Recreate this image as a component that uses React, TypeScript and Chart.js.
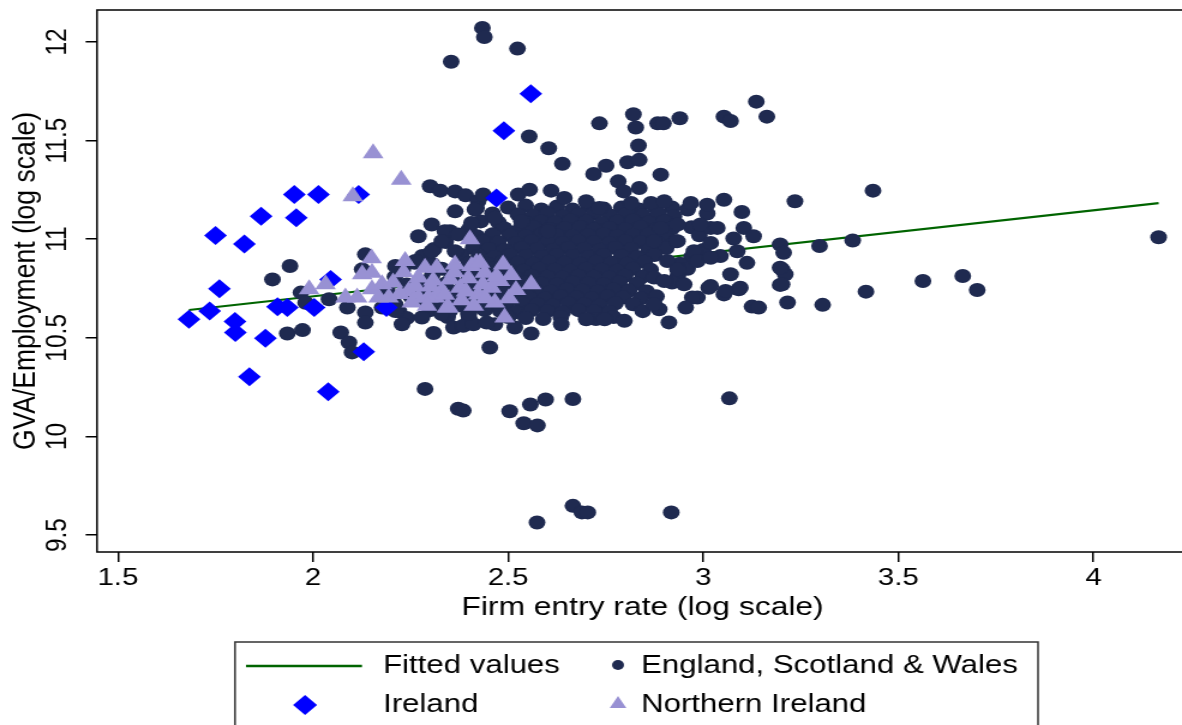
import React, { useEffect, useRef } from 'react';
import { Chart, registerables } from 'chart.js';

Chart.register(...registerables);

// ---------- data ----------
const xTicks = [1.5, 2, 2.5, 3, 3.5, 4];
const xTickLabels = ['1.5', '2', '2.5', '3', '3.5', '4'];
const yTicks = [9.5, 10, 10.5, 11, 11.5, 12];
const yTickLabels = ['9.5', '10', '10.5', '11', '11.5', '12'];

const seriesLabels = ['Fitted values', 'England, Scotland & Wales', 'Ireland', 'Northern Ireland'];

const fitted: [number, number][] = [[1.682, 10.641], [4.167, 11.183]];

const ireland: [number, number][] = [
  [1.952, 11.226], [2.014, 11.226], [2.117, 11.226], [1.867, 11.116], [1.957, 11.108],
  [1.750, 11.019], [1.824, 10.976], [1.760, 10.749], [2.045, 10.796], [1.682, 10.594],
  [1.735, 10.636], [1.800, 10.582], [1.801, 10.527], [1.878, 10.498], [1.909, 10.657],
  [1.934, 10.653], [2.003, 10.653], [2.130, 10.429], [1.837, 10.303], [2.039, 10.227],
  [2.188, 10.653], [2.558, 11.737], [2.489, 11.549], [2.470, 11.209],
];

const northernIreland: [number, number][] = [
  [2.154, 11.436], [2.226, 11.301], [2.102, 11.217], [2.402, 10.999], [2.150, 10.903],
  [1.990, 10.746], [2.032, 10.771], [2.126, 10.822], [2.151, 10.830], [2.083, 10.704],
  [2.113, 10.704], [2.151, 10.746], [2.177, 10.771], [2.168, 10.704], [2.236, 10.889],
  [2.245, 10.737], [2.287, 10.855], [2.317, 10.855], [2.270, 10.704], [2.364, 10.872],
  [2.351, 10.796], [2.377, 10.754], [2.343, 10.653], [2.419, 10.880], [2.423, 10.720],
  [2.313, 10.704], [2.194, 10.704], [2.406, 10.864], [2.428, 10.880], [2.487, 10.872],
  [2.270, 10.805], [2.296, 10.704], [2.330, 10.737], [2.347, 10.653], [2.457, 10.754],
  [2.479, 10.788], [2.466, 10.679], [2.491, 10.603], [2.559, 10.771], [2.253, 10.679],
  [2.205, 10.780], [2.222, 10.722], [2.262, 10.762], [2.308, 10.790], [2.338, 10.718],
  [2.381, 10.690], [2.398, 10.802], [2.440, 10.830], [2.442, 10.700], [2.362, 10.832],
  [2.292, 10.662], [2.412, 10.662], [2.508, 10.818], [2.502, 10.700], [2.232, 10.832],
  [2.302, 10.760], [2.392, 10.735], [2.470, 10.812], [2.520, 10.742], [2.435, 10.772],
];

const eswOuter: [number, number][] = [
  [2.434, 12.071], [2.439, 12.025], [2.524, 11.966], [2.354, 11.899],
  [2.734, 11.587], [2.821, 11.633], [2.827, 11.566], [2.883, 11.587], [2.898, 11.587],
  [2.940, 11.613], [3.053, 11.621], [3.070, 11.599], [3.136, 11.697], [3.163, 11.621],
  [2.554, 11.520], [2.604, 11.461], [2.639, 11.382], [2.834, 11.475], [2.806, 11.390],
  [2.836, 11.402], [2.719, 11.330], [2.751, 11.372], [2.891, 11.327], [2.782, 11.293],
  [2.836, 11.259], [2.796, 11.242],
  [2.300, 11.268], [2.326, 11.246], [2.364, 11.242], [2.391, 11.222], [2.423, 11.192],
  [2.419, 11.158], [2.436, 11.226], [2.526, 11.226], [2.555, 11.251], [2.610, 11.246],
  [2.644, 11.209], [2.700, 11.192], [2.734, 11.158], [2.815, 11.183], [2.866, 11.183],
  [2.900, 11.192], [2.968, 11.183], [3.010, 11.175], [3.053, 11.200], [3.099, 11.138],
  [3.235, 11.192], [3.435, 11.246],
  [2.364, 11.141], [2.415, 11.150], [2.466, 11.108], [2.534, 11.091], [2.304, 11.074],
  [2.351, 11.040], [2.338, 11.040], [2.270, 11.015], [2.406, 11.082], [2.602, 11.040],
  [3.019, 11.057], [3.104, 11.057], [3.129, 11.015], [3.078, 11.003], [3.197, 10.973],
  [3.206, 10.931], [3.019, 10.981], [3.298, 10.965], [3.383, 10.993], [4.167, 11.010],
  [3.112, 10.880], [3.070, 10.822], [3.202, 10.847], [3.210, 10.822], [3.197, 10.768],
  [3.014, 10.754], [3.053, 10.720], [3.091, 10.746], [2.985, 10.704], [3.125, 10.658],
  [3.142, 10.653], [3.216, 10.679], [3.306, 10.667], [3.417, 10.734], [3.563, 10.788],
  [3.665, 10.813], [3.702, 10.742], [3.044, 10.914], [3.087, 10.939], [3.197, 10.855],
  [3.202, 10.771], [3.019, 10.763], [3.057, 10.737], [3.095, 10.754],
  [2.951, 10.771], [2.972, 10.704], [2.955, 10.653], [2.887, 10.645], [2.912, 10.578],
  [2.798, 10.586], [2.993, 11.074], [3.036, 11.057], [2.934, 11.074], [2.891, 11.057],
  [2.874, 10.990], [2.934, 10.990], [2.976, 10.939], [2.908, 10.889], [2.934, 10.847],
  [2.985, 10.889], [3.019, 10.906], [2.874, 10.805], [2.900, 10.788], [2.874, 10.670],
  [2.228, 10.569], [2.309, 10.524], [2.360, 10.552], [2.385, 10.561], [2.411, 10.569],
  [2.466, 10.569], [2.517, 10.552], [2.559, 10.522], [2.636, 10.569], [2.700, 10.594],
  [2.747, 10.594], [2.453, 10.451],
  [2.287, 10.241], [2.372, 10.140], [2.385, 10.131], [2.504, 10.128], [2.557, 10.162],
  [2.596, 10.187], [2.666, 10.190], [2.540, 10.067], [2.575, 10.056], [3.067, 10.193],
  [2.666, 9.648], [2.689, 9.615], [2.704, 9.615], [2.918, 9.615], [2.574, 9.564],
  [1.941, 10.864], [1.896, 10.796], [1.934, 10.522], [1.973, 10.539], [1.969, 10.729],
  [1.981, 10.678], [2.041, 10.695], [2.071, 10.527], [2.092, 10.476], [2.100, 10.426],
  [2.134, 10.923], [2.126, 10.847], [2.088, 10.653], [2.134, 10.628], [2.134, 10.577],
  [2.330, 10.990], [2.372, 11.024], [2.364, 10.939], [2.304, 10.939], [2.228, 10.855],
  [2.262, 10.889], [2.211, 10.864], [2.177, 10.653], [2.211, 10.636], [2.279, 10.603],
  [2.330, 10.620], [2.398, 10.620], [2.445, 10.577],
];

const eswCore: [number, number][] = [
  [2.50, 11.16], [2.545, 11.17], [2.585, 11.15], [2.625, 11.165], [2.665, 11.15], [2.705, 11.17],
  [2.745, 11.155], [2.79, 11.16], [2.835, 11.15], [2.875, 11.165], [2.92, 11.16], [2.96, 11.15],
  [2.46, 11.13], [2.525, 11.125], [2.565, 11.12], [2.60, 11.13], [2.64, 11.115],
  [2.68, 11.125], [2.72, 11.13], [2.76, 11.12], [2.80, 11.125], [2.845, 11.12], [2.885, 11.13],
  [2.925, 11.115], [3.01, 11.13],
  [2.43, 11.09], [2.475, 11.085], [2.545, 11.085], [2.585, 11.09], [2.62, 11.085],
  [2.66, 11.095], [2.70, 11.09], [2.74, 11.08], [2.78, 11.09], [2.82, 11.095], [2.86, 11.085],
  [2.90, 11.09],
  [2.40, 11.05], [2.49, 11.055], [2.53, 11.05], [2.565, 11.06], [2.605, 11.05],
  [2.645, 11.055], [2.685, 11.06], [2.72, 11.05], [2.76, 11.055], [2.80, 11.05], [2.84, 11.06],
  [2.88, 11.05], [2.92, 11.055], [2.97, 11.06],
  [2.42, 11.015], [2.46, 11.025], [2.505, 11.02], [2.545, 11.015], [2.585, 11.025],
  [2.625, 11.02], [2.665, 11.015], [2.705, 11.02], [2.745, 11.025], [2.78, 11.015], [2.82, 11.02],
  [2.86, 11.025], [2.90, 11.015], [2.99, 11.02],
  [2.34, 10.985], [2.435, 10.99], [2.475, 10.985], [2.52, 10.98], [2.56, 10.99],
  [2.60, 10.985], [2.64, 10.98], [2.68, 10.99], [2.72, 10.985], [2.76, 10.98], [2.80, 10.99],
  [2.84, 10.985], [2.885, 10.98], [2.93, 10.99],
  [2.31, 10.95], [2.41, 10.955], [2.45, 10.95], [2.49, 10.945], [2.535, 10.955],
  [2.575, 10.95], [2.615, 10.945], [2.655, 10.955], [2.695, 10.95], [2.735, 10.945], [2.775, 10.955],
  [2.815, 10.95], [2.86, 10.945], [2.905, 10.955], [3.00, 10.945],
  [2.28, 10.915], [2.38, 10.92], [2.425, 10.915], [2.465, 10.91], [2.505, 10.92],
  [2.545, 10.915], [2.585, 10.91], [2.625, 10.92], [2.665, 10.915], [2.705, 10.91], [2.745, 10.92],
  [2.79, 10.915], [2.83, 10.91], [2.875, 10.92], [2.97, 10.91],
  [2.26, 10.88], [2.305, 10.875], [2.40, 10.88], [2.445, 10.875], [2.485, 10.885],
  [2.525, 10.88], [2.565, 10.875], [2.605, 10.885], [2.645, 10.88], [2.685, 10.875], [2.725, 10.885],
  [2.765, 10.88], [2.805, 10.875], [2.85, 10.885], [2.94, 10.875],
  [2.23, 10.845], [2.33, 10.85], [2.38, 10.845], [2.42, 10.84], [2.46, 10.85],
  [2.50, 10.845], [2.54, 10.84], [2.58, 10.85], [2.62, 10.845], [2.66, 10.84], [2.70, 10.85],
  [2.74, 10.845], [2.78, 10.84], [2.82, 10.85], [2.865, 10.845], [2.96, 10.85],
  [2.21, 10.81], [2.305, 10.815], [2.355, 10.81], [2.40, 10.805], [2.44, 10.815],
  [2.48, 10.81], [2.52, 10.805], [2.56, 10.815], [2.60, 10.81], [2.64, 10.805], [2.68, 10.815],
  [2.72, 10.81], [2.76, 10.805], [2.80, 10.815], [2.845, 10.81], [2.935, 10.815],
  [2.24, 10.77], [2.29, 10.78], [2.34, 10.775], [2.385, 10.77], [2.425, 10.78],
  [2.465, 10.775], [2.505, 10.77], [2.545, 10.78], [2.585, 10.775], [2.625, 10.77], [2.665, 10.78],
  [2.705, 10.775], [2.745, 10.77], [2.785, 10.78], [2.83, 10.775], [2.92, 10.78],
  [2.19, 10.74], [2.27, 10.745], [2.32, 10.74], [2.37, 10.735], [2.41, 10.745],
  [2.45, 10.74], [2.49, 10.735], [2.53, 10.745], [2.57, 10.74], [2.61, 10.735], [2.65, 10.745],
  [2.69, 10.74], [2.73, 10.735], [2.77, 10.745], [2.81, 10.74], [2.855, 10.735],
  [2.20, 10.705], [2.25, 10.71], [2.35, 10.70], [2.395, 10.71], [2.435, 10.705],
  [2.475, 10.70], [2.515, 10.71], [2.555, 10.705], [2.595, 10.70], [2.635, 10.71], [2.675, 10.705],
  [2.715, 10.70], [2.755, 10.71], [2.795, 10.705], [2.84, 10.70], [2.88, 10.71],
  [2.21, 10.67], [2.29, 10.675], [2.33, 10.67], [2.375, 10.665], [2.415, 10.675],
  [2.455, 10.67], [2.495, 10.665], [2.535, 10.675], [2.575, 10.67], [2.615, 10.665], [2.655, 10.675],
  [2.695, 10.67], [2.735, 10.665], [2.775, 10.675], [2.82, 10.67],
  [2.22, 10.635], [2.30, 10.64], [2.35, 10.635], [2.40, 10.63], [2.44, 10.64],
  [2.48, 10.635], [2.52, 10.63], [2.56, 10.64], [2.60, 10.635], [2.64, 10.63], [2.68, 10.64],
  [2.72, 10.635], [2.76, 10.63], [2.845, 10.635],
  [2.24, 10.60], [2.345, 10.605], [2.40, 10.60], [2.50, 10.605],
  [2.545, 10.60], [2.59, 10.595], [2.635, 10.605], [2.725, 10.595], [2.77, 10.605],
];

// ---------- styling / layout ----------
const STRETCH = 1.2; // the reference is drawn wider than tall
const W = 1000;
const H = 725;
const FONT = "'Liberation Sans', Arial, Helvetica, sans-serif";
const NAVY = '#1f2a50';
const BLUE = '#0000ff';
const LAVENDER = '#9891d3';
const GREEN = '#006400';

const AREA_LEFT = 97 / STRETCH;
const AREA_RIGHT = 1193 / STRETCH;
const AREA_TOP = 8;
const AREA_BOTTOM = 552;
const XAXIS_H = 72;

const pts = (a: [number, number][]) => a.map(([x, y]) => ({ x, y }));

const decorPlugin = {
  id: 'decor',
  afterDraw(chart: any) {
    const { ctx, chartArea: a } = chart;
    ctx.save();
    ctx.strokeStyle = '#000';
    ctx.lineWidth = 1.5;
    ctx.strokeRect(a.left, a.top, a.right - a.left, a.bottom - a.top);

    // rotated y tick labels
    const ys = chart.scales.y;
    ctx.fillStyle = '#000';
    ctx.font = `24.5px ${FONT}`;
    ctx.textAlign = 'center';
    ctx.textBaseline = 'middle';
    yTicks.forEach((v, i) => {
      const py = ys.getPixelForValue(v);
      ctx.save();
      ctx.translate(57.5 / STRETCH, py);
      ctx.rotate(-Math.PI / 2);
      ctx.fillText(yTickLabels[i], 0, 0);
      ctx.restore();
    });

    // legend
    const bx0 = 235 / STRETCH;
    const bx1 = 1038 / STRETCH;
    ctx.strokeStyle = '#333';
    ctx.lineWidth = 1.5;
    ctx.strokeRect(bx0, 642, bx1 - bx0, 120);
    const r1 = 666;
    const r2 = 705;
    const c1 = 305 / STRETCH;
    const c2 = 618 / STRETCH;
    const t1 = 383 / STRETCH;
    const t2 = 641 / STRETCH;
    ctx.strokeStyle = GREEN;
    ctx.lineWidth = 2.5;
    ctx.beginPath();
    ctx.moveTo(246 / STRETCH, r1);
    ctx.lineTo(362 / STRETCH, r1);
    ctx.stroke();
    ctx.fillStyle = NAVY;
    ctx.beginPath();
    ctx.arc(c2, r1 - 1, 5, 0, Math.PI * 2);
    ctx.fill();
    ctx.fillStyle = BLUE;
    const d = 10;
    ctx.beginPath();
    ctx.moveTo(c1, r2 - d);
    ctx.lineTo(c1 + d, r2);
    ctx.lineTo(c1, r2 + d);
    ctx.lineTo(c1 - d, r2);
    ctx.closePath();
    ctx.fill();
    ctx.fillStyle = LAVENDER;
    const t = 8;
    const ty = r2 - 1;
    ctx.beginPath();
    ctx.moveTo(c2, ty - t);
    ctx.lineTo(c2 + t * 0.866, ty + t / 2);
    ctx.lineTo(c2 - t * 0.866, ty + t / 2);
    ctx.closePath();
    ctx.fill();
    ctx.fillStyle = '#000';
    ctx.font = `26px ${FONT}`;
    ctx.textAlign = 'left';
    ctx.textBaseline = 'middle';
    ctx.fillText(seriesLabels[0], t1, r1);
    ctx.fillText(seriesLabels[1], t2, r1);
    ctx.fillText(seriesLabels[2], t1, r2);
    ctx.fillText(seriesLabels[3], t2, r2);
    ctx.restore();
  },
};

export default function App() {
  const ref = useRef<HTMLCanvasElement | null>(null);

  useEffect(() => {
    if (!ref.current) return;
    const chart = new Chart(ref.current, {
      type: 'scatter',
      data: {
        datasets: [
          {
            label: seriesLabels[3],
            data: pts(northernIreland),
            pointStyle: 'triangle',
            pointRadius: 10,
            pointBackgroundColor: LAVENDER,
            backgroundColor: LAVENDER,
            pointBorderWidth: 0,
            borderWidth: 0,
            order: 0,
          },
          {
            label: seriesLabels[2],
            data: pts(ireland),
            pointStyle: 'rectRot',
            pointRadius: 9.5,
            pointBackgroundColor: BLUE,
            backgroundColor: BLUE,
            pointBorderWidth: 0,
            borderWidth: 0,
            order: 1,
          },
          {
            label: seriesLabels[1],
            data: pts([...eswCore, ...eswOuter]),
            pointStyle: 'circle',
            pointRadius: 7,
            pointBackgroundColor: NAVY,
            backgroundColor: NAVY,
            pointBorderWidth: 0,
            borderWidth: 0,
            order: 2,
          },
          {
            label: seriesLabels[0],
            data: pts(fitted),
            showLine: true,
            pointRadius: 0,
            borderColor: GREEN,
            backgroundColor: GREEN,
            borderWidth: 2.2,
            fill: false,
            order: 3,
          },
        ],
      },
      options: {
        animation: false,
        responsive: false,
        devicePixelRatio: 1,
        events: [],
        layout: {
          padding: { left: 0, right: W - AREA_RIGHT, top: AREA_TOP, bottom: H - AREA_BOTTOM - XAXIS_H },
        },
        plugins: { legend: { display: false }, tooltip: { enabled: false } },
        scales: {
          x: {
            type: 'linear',
            min: 1.5 - (118 - 97) / 392,
            max: 1.5 + (1193 - 118) / 392,
            afterBuildTicks: (s: any) => {
              s.ticks = xTicks.map((v) => ({ value: v }));
            },
            afterFit: (s: any) => {
              s.height = XAXIS_H;
            },
            border: { display: false },
            grid: { drawOnChartArea: false, drawTicks: true, tickLength: 10, color: '#000', lineWidth: 1.5 },
            ticks: {
              autoSkip: false,
              maxRotation: 0,
              minRotation: 0,
              padding: 2,
              color: '#000',
              font: { family: FONT, size: 24.5 },
              callback: (v: any) => {
                const i = xTicks.indexOf(Number(v));
                return i >= 0 ? xTickLabels[i] : '';
              },
            },
            title: {
              display: true,
              text: 'Firm entry rate (log scale)',
              color: '#000',
              font: { family: FONT, size: 26.5 },
              padding: 0,
            },
          },
          y: {
            type: 'linear',
            min: 12 - (AREA_BOTTOM - 40) / 198,
            max: 12 + (40 - AREA_TOP) / 198,
            afterBuildTicks: (s: any) => {
              s.ticks = yTicks.map((v) => ({ value: v }));
            },
            afterFit: (s: any) => {
              s.width = AREA_LEFT;
            },
            border: { display: false },
            grid: { drawOnChartArea: false, drawTicks: true, tickLength: 9.5, color: '#000', lineWidth: 1.5 },
            ticks: { display: false },
            title: {
              display: true,
              text: 'GVA/Employment (log scale)',
              color: '#000',
              font: { family: FONT, size: 26.5 },
              padding: { top: 5.4, bottom: 0 },
            },
          },
        },
      },
      plugins: [decorPlugin],
    } as any);
    return () => chart.destroy();
  }, []);

  return (
    <div
      style={{
        position: 'fixed',
        left: 0,
        top: 0,
        width: 1182,
        height: 725,
        overflow: 'hidden',
        background: '#fff',
      }}
    >
      <canvas
        ref={ref}
        width={W}
        height={H}
        style={{ width: `${W * STRETCH}px`, height: `${H}px`, display: 'block' }}
      />
    </div>
  );
}
